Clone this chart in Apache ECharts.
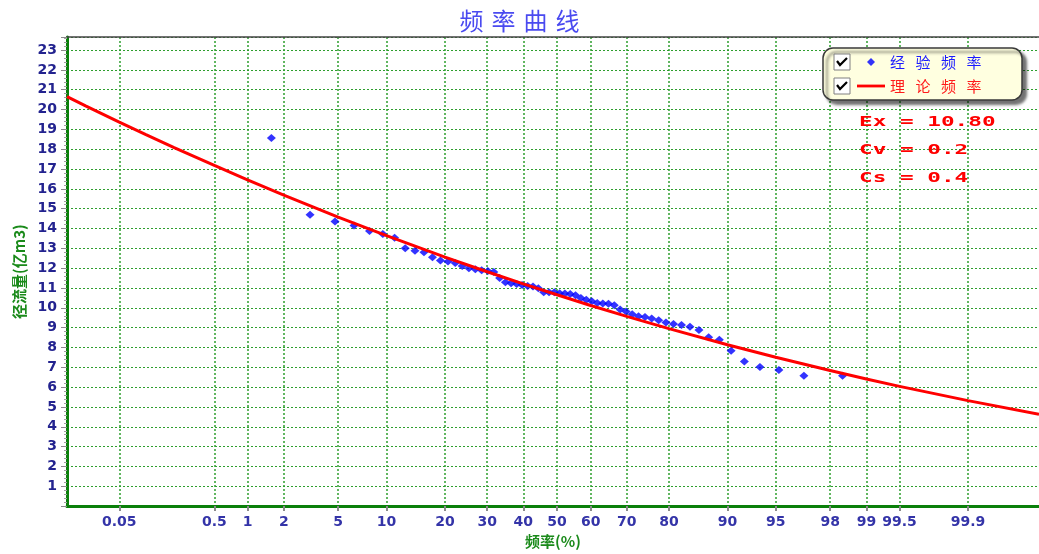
<!DOCTYPE html>
<html>
<head>
<meta charset="utf-8">
<script src="https://cdn.jsdelivr.net/npm/echarts@6/dist/echarts.min.js"></script>
<style>
html,body{margin:0;padding:0;background:#fff;}
#chart{width:1039px;height:554px;}
</style>
</head>
<body>
<div id="chart"></div>
<script>
// ---- data ----
const probTicks = [0.05, 0.5, 1, 2, 5, 10, 20, 30, 40, 50, 60, 70, 80, 90, 95, 98, 99, 99.5, 99.9];
const tickLabels = ['0.05', '0.5', '1', '2', '5', '10', '20', '30', '40', '50', '60', '70', '80', '90', '95', '98', '99', '99.5', '99.9'];
const axisProbMin = 0.0115;
const axisProbMax = 99.9855;

const empFreq = [1.59, 3.17, 4.76, 6.35, 7.94, 9.52, 11.11, 12.70, 14.29, 15.87,
  17.46, 19.05, 20.63, 22.22, 23.81, 25.40, 26.98, 28.57, 30.16, 31.75,
  33.33, 34.92, 36.51, 38.10, 39.68, 41.27, 42.86, 44.44, 46.03, 47.62,
  49.21, 50.79, 52.38, 53.97, 55.56, 57.14, 58.73, 60.32, 61.90, 63.49,
  65.08, 66.67, 68.25, 69.84, 71.43, 73.02, 74.60, 76.19, 77.78, 79.37,
  80.95, 82.54, 84.13, 85.71, 87.30, 88.89, 90.48, 92.06, 93.65, 95.24,
  96.83, 98.41];
const empValue = [18.56, 14.69, 14.36, 14.15, 13.87, 13.72, 13.54, 13.00, 12.88, 12.80,
  12.55, 12.39, 12.34, 12.26, 12.11, 12.00, 11.95, 11.90, 11.86, 11.81,
  11.50, 11.29, 11.24, 11.20, 11.15, 11.10, 11.07, 10.99, 10.79, 10.78,
  10.78, 10.74, 10.72, 10.70, 10.63, 10.50, 10.41, 10.33, 10.25, 10.22,
  10.20, 10.13, 9.92, 9.81, 9.68, 9.58, 9.54, 9.46, 9.38, 9.26,
  9.18, 9.13, 9.05, 8.88, 8.52, 8.39, 7.83, 7.29, 7.01, 6.86,
  6.58, 6.58];

const theoFreq = [0.0115, 0.02, 0.05, 0.1, 0.2, 0.5, 1, 2, 5, 10, 20, 30, 40, 50, 60, 70, 80, 90, 95, 98, 99, 99.5, 99.9, 99.9855];
const theoValue = [20.65, 20.17, 19.37, 18.74, 18.08, 17.18, 16.45, 15.69, 14.58, 13.64, 12.56, 11.82, 11.21, 10.66, 10.12, 9.57, 8.95, 8.14, 7.51, 6.84, 6.41, 6.04, 5.32, 4.63];

const paramLines = ['Ex = 10.80', 'Cv = 0.2', 'Cs = 0.4'];

// ---- probability-paper scale (normal quantile) ----
function invNorm(p) {
  const a = [-3.969683028665376e+01, 2.209460984245205e+02, -2.759285104469687e+02, 1.383577518672690e+02, -3.066479806614716e+01, 2.506628277459239e+00];
  const b = [-5.447609879822406e+01, 1.615858368580409e+02, -1.556989798598866e+02, 6.680131188771972e+01, -1.328068155288572e+01];
  const c = [-7.784894002430293e-03, -3.223964580411365e-01, -2.400758277161838e+00, -2.549732539343734e+00, 4.374664141464968e+00, 2.938163982698783e+00];
  const d = [7.784695709041462e-03, 3.224671290700398e-01, 2.445134137142996e+00, 3.754408661907416e+00];
  const pl = 0.02425, ph = 1 - pl;
  let q, r;
  if (p < pl) {
    q = Math.sqrt(-2 * Math.log(p));
    return (((((c[0] * q + c[1]) * q + c[2]) * q + c[3]) * q + c[4]) * q + c[5]) / ((((d[0] * q + d[1]) * q + d[2]) * q + d[3]) * q + 1);
  }
  if (p <= ph) {
    q = p - 0.5; r = q * q;
    return (((((a[0] * r + a[1]) * r + a[2]) * r + a[3]) * r + a[4]) * r + a[5]) * q / (((((b[0] * r + b[1]) * r + b[2]) * r + b[3]) * r + b[4]) * r + 1);
  }
  q = Math.sqrt(-2 * Math.log(1 - p));
  return -(((((c[0] * q + c[1]) * q + c[2]) * q + c[3]) * q + c[4]) * q + c[5]) / ((((d[0] * q + d[1]) * q + d[2]) * q + d[3]) * q + 1);
}
const pz = pct => invNorm(pct / 100);
const tickZ = probTicks.map(pz);
function labelFor(v) {
  let best = 0, bd = Infinity;
  tickZ.forEach((z, i) => { const dd = Math.abs(z - v); if (dd < bd) { bd = dd; best = i; } });
  return bd < 1e-6 ? tickLabels[best] : '';
}

const empData = empFreq.map((p, i) => [pz(p), empValue[i]]);
const theoData = theoFreq.map((p, i) => [pz(p), theoValue[i]]);

const chart = echarts.init(document.getElementById('chart'), null, { renderer: 'canvas' });
const gridGreen = '#2e9e2e';
const spaced = (s, key) => s.split('').map(ch => '{' + key + '|' + ch + '}').join('');

const option = {
  backgroundColor: '#ffffff',
  animation: false,
  title: {
    text: spaced('频率曲线', 't'),
    left: 'center',
    top: 2,
    textStyle: {
      fontWeight: 'normal',
      rich: { t: { width: 32, align: 'center', fontSize: 24, fontWeight: 'normal', color: '#4a4af0', fontFamily: 'Noto Sans CJK SC', lineHeight: 28 } }
    }
  },
  grid: { left: 67, right: 0, top: 37, bottom: 38, containLabel: false },
  legend: {
    left: 823, top: 48,
    orient: 'vertical',
    itemWidth: 28, itemHeight: 8, itemGap: 8,
    padding: [6, 30, 6, 34],
    backgroundColor: '#ffffe0',
    borderColor: '#3a3a3a', borderWidth: 1.5, borderRadius: 10,
    shadowBlur: 3, shadowColor: 'rgba(0,0,0,0.55)', shadowOffsetX: 4, shadowOffsetY: 4,
    selectedMode: false,
    symbolKeepAspect: true,
    formatter: name => spaced(name, name === '经验频率' ? 'b' : 'r'),
    textStyle: {
      lineHeight: 16,
      rich: {
        b: { width: 25.5, fontSize: 15, lineHeight: 16, color: '#1a1aff', fontFamily: 'Noto Sans CJK SC' },
        r: { width: 25.5, fontSize: 15, lineHeight: 16, color: '#ff1a1a', fontFamily: 'Noto Sans CJK SC' }
      }
    },
    data: [
      { name: '经验频率', icon: 'path://M5,0 L10,5 L5,10 L0,5 Z', itemStyle: { color: '#0000ff' } },
      { name: '理论频率', icon: 'path://M0,0 L30,0 L30,3 L0,3 Z', itemStyle: { color: '#ff0000', borderWidth: 0 } }
    ]
  },
  xAxis: [{
    type: 'value',
    min: pz(axisProbMin), max: pz(axisProbMax),
    name: '频率(%)', nameLocation: 'middle', nameGap: 25,
    nameTextStyle: { color: '#1a8a1a', fontSize: 15, fontWeight: 'bold', fontFamily: 'Noto Sans CJK SC' },
    axisLine: { show: true, onZero: false, lineStyle: { color: '#0a800a', width: 3 } },
    axisTick: { show: true, length: 5, customValues: tickZ, lineStyle: { color: '#8a8a8a', width: 2 } },
    axisLabel: {
      customValues: tickZ, margin: 9,
      formatter: v => labelFor(v),
      color: '#3434a8', fontSize: 14, fontWeight: 'bold', fontFamily: 'DejaVu Sans'
    },
    splitLine: { show: true, customValues: tickZ, lineStyle: { color: gridGreen, width: 1.5, type: [2, 2] } }
  }, {
    type: 'value', position: 'top',
    min: pz(axisProbMin), max: pz(axisProbMax),
    axisLine: { show: true, onZero: false, lineStyle: { color: '#444444', width: 1.5 } },
    axisTick: { show: false }, axisLabel: { show: false }, splitLine: { show: false }
  }],
  yAxis: {
    type: 'value', min: 0, max: 23.66, interval: 1,
    name: '径流量(亿m3)', nameLocation: 'middle', nameGap: 40,
    nameTextStyle: { color: '#1a8a1a', fontSize: 15, fontWeight: 'bold', fontFamily: 'Noto Sans CJK SC' },
    axisLine: { show: true, onZero: false, lineStyle: { color: '#0a800a', width: 3 } },
    axisTick: { show: true, length: 6, lineStyle: { color: '#8a8a8a' } },
    minorTick: { show: true, splitNumber: 5, length: 3, lineStyle: { color: '#a0a0a0' } },
    axisLabel: {
      margin: 10,
      formatter: v => (v === 0 ? '' : String(v)),
      color: '#23238f', fontSize: 14, fontWeight: 'bold', fontFamily: 'DejaVu Sans'
    },
    splitLine: { show: true, lineStyle: { color: gridGreen, width: 1, type: [2, 2] } }
  },
  series: [
    {
      name: '经验频率', type: 'scatter', data: empData,
      symbol: 'diamond', symbolSize: [9, 8],
      itemStyle: { color: '#0000ff' }, z: 3
    },
    {
      name: '理论频率', type: 'line', data: theoData,
      symbol: 'none', smooth: false,
      lineStyle: { color: '#ff0000', width: 3 }, itemStyle: { color: '#ff0000' }, z: 4
    }
  ],
  graphic: [
    // checkboxes inside the legend
    { type: 'rect', z: 100, shape: { x: 834, y: 54, width: 16, height: 16 }, style: { fill: '#ffffff', stroke: '#808080', lineWidth: 1 } },
    { type: 'polyline', z: 101, shape: { points: [[837, 61], [840, 65], [847, 58]] }, style: { stroke: '#000', lineWidth: 2.2, fill: null } },
    { type: 'rect', z: 100, shape: { x: 834, y: 78, width: 16, height: 16 }, style: { fill: '#ffffff', stroke: '#808080', lineWidth: 1 } },
    { type: 'polyline', z: 101, shape: { points: [[837, 85], [840, 89], [847, 82]] }, style: { stroke: '#000', lineWidth: 2.2, fill: null } }
  ].concat(paramLines.map((t, i) => ({
    type: 'text', z: 100,
    x: 859, y: [122.5, 150, 178][i], scaleX: 1.62, scaleY: 1,
    style: { text: t, fill: '#ff0000', font: 'bold 14px "DejaVu Sans Mono"', verticalAlign: 'middle', textAlign: 'left' }
  })))
};
chart.setOption(option);
</script>
</body>
</html>
